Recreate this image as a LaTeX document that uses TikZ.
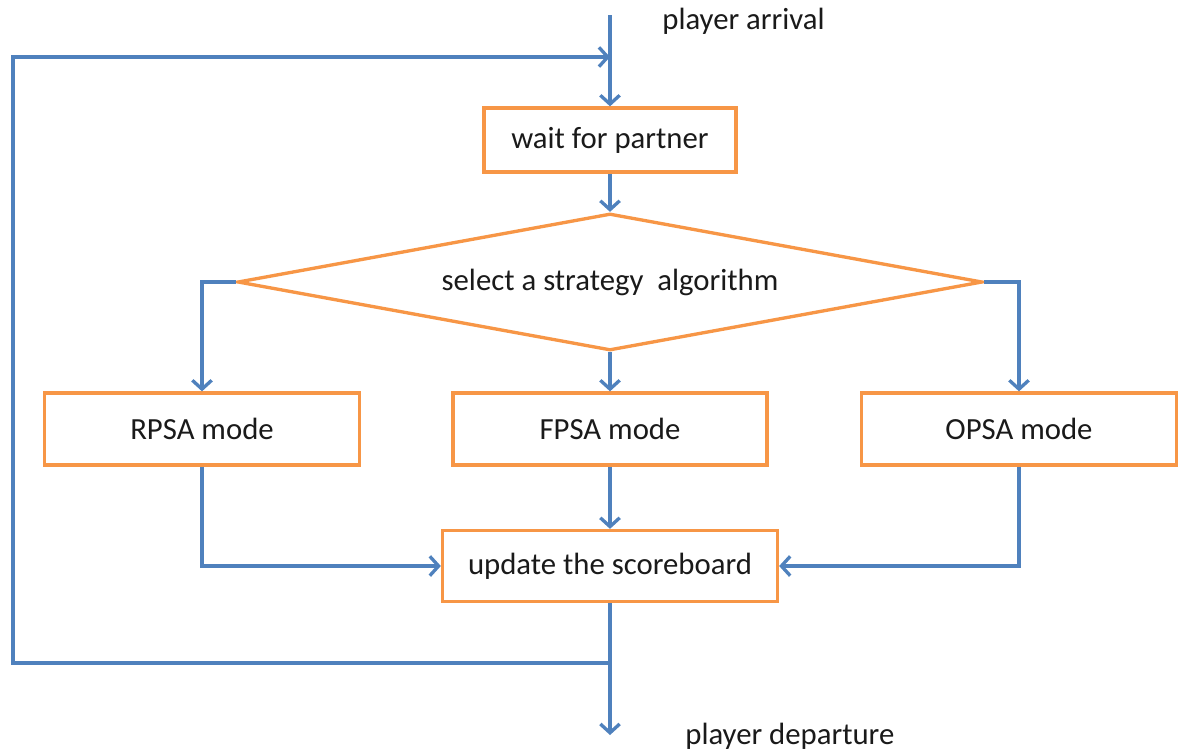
\documentclass[tikz,border=0pt]{standalone}
\usepackage{fontspec}
\setmainfont{Carlito}
\usetikzlibrary{arrows.meta,shapes.geometric}
\definecolor{flowblue}{HTML}{4F81BD}
\definecolor{boxorange}{HTML}{F79646}
\definecolor{txt}{HTML}{1A1A1A}
\begin{document}
\begin{tikzpicture}[x=0.02cm,y=-0.02cm,
  font=\fontsize{17.5}{20}\selectfont,
  box/.style={draw=boxorange,line width=1.9pt,fill=white,text=txt,inner sep=0pt,
    rectangle,minimum height=1.38cm},
  decision/.style={draw=boxorange,line width=1.9pt,fill=white,text=txt,inner sep=0pt,
    diamond,aspect=5.4,minimum width=14.9cm,minimum height=2.74cm},
  link/.style={draw=flowblue,line width=1.9pt},
  arr/.style={link,-{Straight Barb[length=5pt,width=11pt,line width=1.9pt]}},
  lbl/.style={text=txt,inner sep=0pt,anchor=west}]
\useasboundingbox (0,0) rectangle (1179,751);

% boxes and decision
\node[box,minimum width=5.04cm,minimum height=1.28cm] (wait) at (610,140) {wait for partner};
\node[decision] (sel) at (610,282) {select a strategy\ \ algorithm};
\node[box,minimum width=6.3cm,minimum height=1.44cm] (rpsa) at (202,429) {RPSA mode};
\node[box,minimum width=6.28cm,minimum height=1.44cm] (fpsa) at (610,429) {FPSA mode};
\node[box,minimum width=6.3cm,minimum height=1.44cm] (opsa) at (1019,429) {OPSA mode};
\node[box,minimum width=6.7cm,minimum height=1.42cm] (upd) at (610,566) {update the scoreboard};

% free ends and corners
\coordinate (top) at (610,15);
\coordinate (loopin) at (610,57);
\coordinate (loopout) at (610,663);
\coordinate (leftTop) at (13,57);
\coordinate (leftBot) at (13,663);
\coordinate (bottom) at (610,735);

% labels
\node[lbl] (arrive) at (662,21) {player arrival};
\node[lbl] (depart) at (685,736) {player departure};

% connectors
\draw[arr] (top) -- (wait.north);
\draw[arr] (wait.south) -- (sel.north);
\draw[arr] (sel.west) -| (rpsa.north);
\draw[arr] (sel.south) -- (fpsa.north);
\draw[arr] (sel.east) -| (opsa.north);
\draw[arr] (rpsa.south) |- (upd.west);
\draw[arr] (fpsa.south) -- (upd.north);
\draw[arr] (opsa.south) |- (upd.east);
\draw[arr] (upd.south) -- (bottom);
\draw[arr] (loopout) -- (leftBot) -- (leftTop) -- (loopin);
\end{tikzpicture}
\end{document}
